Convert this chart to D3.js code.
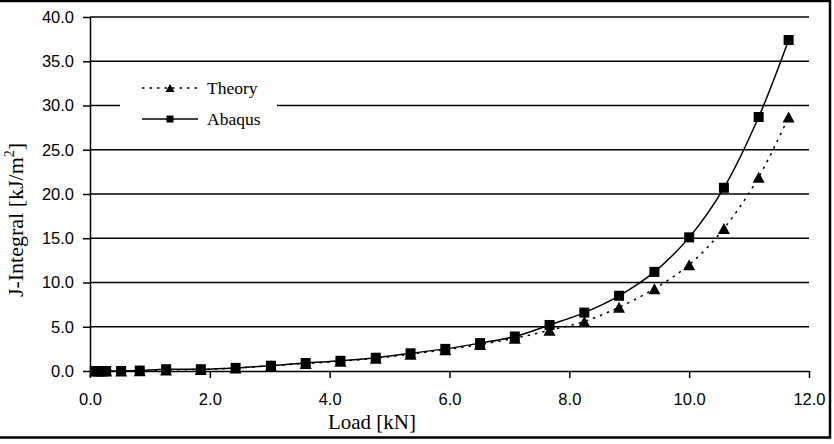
<!DOCTYPE html>
<html>
<head>
<meta charset="utf-8">
<script src="https://cdn.jsdelivr.net/npm/d3@7"></script>
<style>
  html, body { margin: 0; padding: 0; background: #fff; }
  svg { display: block; }
  .tick text { font-family: "Liberation Sans", Arial, sans-serif; font-size: 16.5px; fill: #000; }
  .serif { font-family: "Liberation Serif", "Times New Roman", serif; fill: #000; }
</style>
</head>
<body>
<div id="drawing-area"></div>
<script>
// load steps [kN]
var loads = [0.08, 0.14, 0.20, 0.27, 0.52, 0.83, 1.27, 1.85, 2.43, 3.02, 3.60, 4.18, 4.77,
  5.35, 5.93, 6.51, 7.09, 7.67, 8.25, 8.83, 9.42, 10.0, 10.58, 11.16, 11.66];
// J-integral [kJ/m2]
var theoryValues = [0, 0, 0, 0, 0, 0.02, 0.12, 0.18, 0.33, 0.6, 0.85, 1.1, 1.45,
  1.9, 2.4, 3.0, 3.7, 4.6, 5.6, 7.2, 9.3, 12.0, 16.1, 21.9, 28.7];
var abaqusValues = [0, 0, 0, 0, 0, 0.05, 0.2, 0.2, 0.35, 0.6, 0.9, 1.15, 1.5,
  2.0, 2.5, 3.15, 3.9, 5.2, 6.6, 8.5, 11.2, 15.1, 20.7, 28.7, 37.4];
var xTicks = [0, 2, 4, 6, 8, 10, 12];
var yTicks = [0, 5, 10, 15, 20, 25, 30, 35, 40];
var seriesNames = ['Theory', 'Abaqus'];

var width = 834, height = 444;
var margin = { top: 17, right: 25, bottom: 73, left: 90 };

var svg = d3.select('#drawing-area').append('svg')
  .attr('width', width)
  .attr('height', height);

var x = d3.scaleLinear().domain([0, 12]).range([margin.left, width - margin.right]);
var y = d3.scaleLinear().domain([0, 40]).range([height - margin.bottom, margin.top]);

// outer frame
svg.append('path')
  .attr('d', 'M0,1H830V437.5H0')
  .attr('fill', 'none')
  .attr('stroke', '#000')
  .attr('stroke-width', 2.5);

// gridlines
svg.append('g').selectAll('line')
  .data(yTicks.slice(1))
  .enter().append('line')
  .attr('x1', x(0)).attr('x2', x(12))
  .attr('y1', function(d) { return y(d); })
  .attr('y2', function(d) { return y(d); })
  .attr('stroke', '#000')
  .attr('stroke-width', 1.5);

var yAxis = svg.append('g')
  .attr('transform', 'translate(' + x(0) + ',0)')
  .call(d3.axisLeft(y).tickValues(yTicks).tickSize(7).tickSizeOuter(0).tickPadding(9)
    .tickFormat(d3.format('.1f')));
yAxis.selectAll('line, path').attr('stroke', '#000').attr('stroke-width', 1.5);

var xAxis = svg.append('g')
  .attr('transform', 'translate(0,' + y(0) + ')')
  .call(d3.axisBottom(x).tickValues(xTicks).tickSize(7).tickSizeOuter(0).tickPadding(15)
    .tickFormat(d3.format('.1f')));
xAxis.selectAll('line, path').attr('stroke', '#000').attr('stroke-width', 1.5);

// axis titles
svg.append('text')
  .attr('class', 'serif')
  .attr('x', 372).attr('y', 429)
  .attr('text-anchor', 'middle')
  .style('font-size', '21px')
  .text('Load [kN]');

var yTitle = svg.append('text')
  .attr('class', 'serif')
  .attr('transform', 'translate(23,220) rotate(-90)')
  .attr('text-anchor', 'middle')
  .style('font-size', '22px');
yTitle.append('tspan').text('J-Integral [kJ/m');
yTitle.append('tspan').attr('dy', -9).style('font-size', '14px').text('2');
yTitle.append('tspan').attr('dy', 9).text(']');

var line = d3.line()
  .x(function(d) { return x(d[0]); })
  .y(function(d) { return y(d[1]); })
  .curve(d3.curveCatmullRom.alpha(0.5));

var triangle = function(s) {
  return 'M0,' + (-s / 2) + 'L' + (s / 2 + 0.5) + ',' + (s / 2) + 'L' + (-s / 2 - 0.5) + ',' + (s / 2) + 'Z';
};

function drawSeries(values, dashed, marker) {
  var pts = loads.map(function(l, i) { return [l, values[i]]; });
  svg.append('path')
    .datum(pts)
    .attr('d', line)
    .attr('fill', 'none')
    .attr('stroke', '#000')
    .attr('stroke-width', 1.5)
    .attr('stroke-dasharray', dashed ? '2.5,5' : null);
  var g = svg.append('g');
  pts.forEach(function(p) {
    if (marker === 'square') {
      g.append('rect')
        .attr('x', x(p[0]) - 5).attr('y', y(p[1]) - 5)
        .attr('width', 10).attr('height', 10)
        .attr('fill', '#000');
    } else {
      g.append('path')
        .attr('d', triangle(11))
        .attr('transform', 'translate(' + x(p[0]) + ',' + y(p[1]) + ')')
        .attr('fill', '#000');
    }
  });
}

drawSeries(theoryValues, true, 'triangle');
drawSeries(abaqusValues, false, 'square');

// legend
var legend = svg.append('g');
legend.append('rect')
  .attr('x', 120).attr('y', 70)
  .attr('width', 157).attr('height', 68)
  .attr('fill', '#fff');
var legendRows = [
  { name: seriesNames[0], y: 88, dashed: true, marker: 'triangle' },
  { name: seriesNames[1], y: 119, dashed: false, marker: 'square' }
];
legendRows.forEach(function(r) {
  legend.append('line')
    .attr('x1', 142).attr('x2', 198)
    .attr('y1', r.y).attr('y2', r.y)
    .attr('stroke', '#000')
    .attr('stroke-width', 1.5)
    .attr('stroke-dasharray', r.dashed ? '2.5,5' : null);
  if (r.marker === 'square') {
    legend.append('rect')
      .attr('x', 166.5).attr('y', r.y - 3.5)
      .attr('width', 7).attr('height', 7)
      .attr('fill', '#000');
  } else {
    legend.append('path')
      .attr('d', triangle(8))
      .attr('transform', 'translate(170,' + r.y + ')')
      .attr('fill', '#000');
  }
  legend.append('text')
    .attr('class', 'serif')
    .attr('x', 207).attr('y', r.y + 5.5)
    .style('font-size', '17.5px')
    .text(r.name);
});
</script>
</body>
</html>
